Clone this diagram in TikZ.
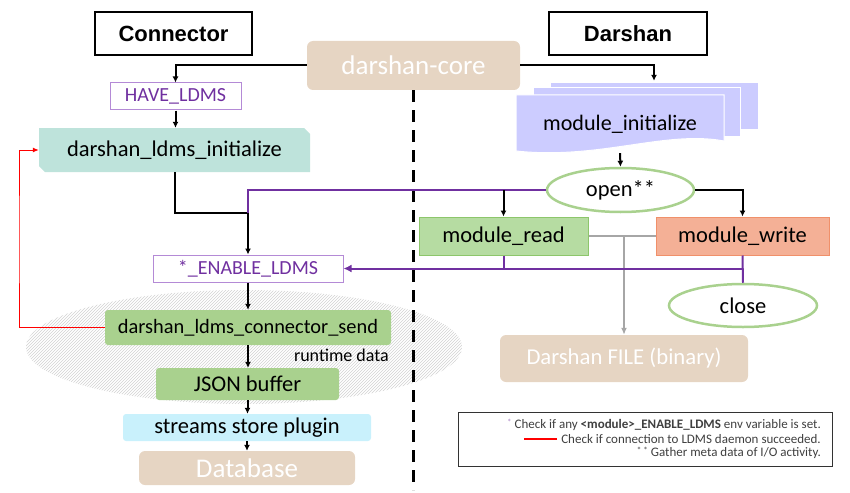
\documentclass[tikz,border=0pt]{standalone}
\usepackage{fontspec}
\setmainfont{Carlito}
\newfontfamily\arialfont{Liberation Sans}
\usetikzlibrary{arrows.meta,patterns,shapes.geometric}
\definecolor{tan}{HTML}{E6D5C3}
\definecolor{teal}{HTML}{BEE3DB}
\definecolor{lav}{HTML}{CCCCFF}
\definecolor{rdgreen}{HTML}{B6DCA2}
\definecolor{rdborder}{HTML}{8DC66B}
\definecolor{wrfill}{HTML}{F4B096}
\definecolor{wrborder}{HTML}{F0906A}
\definecolor{sgreen}{HTML}{A9D18E}
\definecolor{cyanbox}{HTML}{C9F1FC}
\definecolor{purp}{HTML}{7030A0}
\definecolor{lpurp}{HTML}{B48AD6}
\definecolor{lgray}{HTML}{A6A6A6}
\definecolor{legtext}{HTML}{3F3F3F}
\tikzset{
  fsz/.style={font=\fontsize{#1}{#1}\selectfont},
  hdr/.style={draw=black, line width=2, inner sep=0, font=\arialfont\bfseries\fontsize{22}{22}\selectfont},
  corebox/.style={fill=tan, rounded corners=6, inner sep=0, text=white},
  envbox/.style={draw=lpurp, line width=1, fill=white, inner sep=0, text=purp, fsz=20},
  plainbox/.style={inner sep=0, fsz=22.5},
  ellbox/.style={ellipse, draw=sgreen, line width=2.5, fill=white, inner sep=0, fsz=22.5},
  arr/.style={draw=black, line width=2, -{Latex[length=6,width=6]}},
  blk/.style={draw=black, line width=2},
  pline/.style={draw=purp, line width=2},
  parr/.style={draw=purp, line width=2, -{Latex[length=8,width=8]}},
  garr/.style={draw=lgray, line width=2, -{Latex[length=7,width=6]}},
  gline/.style={draw=lgray, line width=2},
  rarr/.style={draw=red, line width=1, -{Latex[length=6,width=5]}},
  legline/.style={anchor=east, inner sep=0, text=legtext, fsz=13},
}
\begin{document}
\begin{tikzpicture}[x=1pt,y=-1pt]
\useasboundingbox (0,0) rectangle (850,492);
% hatched ellipse
\fill[pattern=north east lines, pattern color=gray!35] (244,347) ellipse [x radius=218, y radius=57];
% headers
\node[hdr, minimum width=157, minimum height=43] (conn) at (173.5,33.5) {Connector};
\node[hdr, minimum width=158, minimum height=43] (dar) at (628,33.5) {Darshan};
% core
\node[corebox, minimum width=213, minimum height=49, fsz=27] (core) at (413.5,65.5) {darshan-core};
% divider
\draw[line width=3, dash pattern=on 12 off 8] (core.south) -- ++(0,400);
% left column
\node[envbox, minimum width=131, minimum height=27] (have) at (175.5,96.5) {HAVE\_LDMS};
\fill[teal] (39,128) -- (304,128) -- (310,134) -- (310,172) -- (45,172) -- (39,166) -- cycle;
\node[plainbox, minimum width=271, minimum height=44] (init) at (174.5,150) {darshan\_ldms\_initialize};
\node[envbox, minimum width=190, minimum height=27] (enable) at (248,268.5) {*\_ENABLE\_LDMS};
\node[fill=sgreen, rounded corners=3, inner sep=0, minimum width=286, minimum height=35, fsz=20.4] (send) at (248,327.5) {darshan\_ldms\_connector\_send};
\node[anchor=east, inner sep=0, fsz=18] (rt) at (389,355) {runtime data};
\node[fill=sgreen, rounded corners=3, inner sep=0, minimum width=183, minimum height=32, fsz=22.5] (json) at (247.5,384) {JSON buffer};
\node[fill=cyanbox, rounded corners=3, inner sep=0, minimum width=248, minimum height=27, fsz=22.5] (streams) at (247,427.5) {streams store plugin};
\node[corebox, minimum width=216, minimum height=34, fsz=27] (db) at (247,468) {Database};
% right column
\fill[lav, draw=white, line width=1] (550,83) rectangle (758,129);
\node[minimum width=208, minimum height=46, inner sep=0] (modback) at (654,106) {};
\fill[lav, draw=white, line width=1] (533,88) rectangle (740,136);
\path[fill=lav, draw=white, line width=1] (516,95) -- (724,95) -- (724,141) .. controls (665,130) and (600,160) .. (516,151) -- cycle;
\node[plainbox, minimum width=208, minimum height=58, fsz=22.1] (modinit) at (620,124) {module\_initialize};
\node[ellbox, minimum width=147, minimum height=44] (open) at (620.5,190) {open**};
\node[fill=rdgreen, draw=rdborder, line width=1, inner sep=0, minimum width=169, minimum height=38, fsz=22.5] (mread) at (503.5,236) {module\_read};
\node[fill=wrfill, draw=wrborder, line width=1, inner sep=0, minimum width=173, minimum height=38, fsz=22.5] (mwrite) at (742.5,236) {module\_write};
\node[ellbox, minimum width=148, minimum height=43] (close) at (743,305.5) {close};
\node[corebox, minimum width=248, minimum height=47, fsz=22.7] (file) at (624,358.5) {Darshan FILE (binary)};
% legend
\node[draw=black!80, line width=0.8, minimum width=374, minimum height=54, inner sep=0] (legend) at (645,439) {};
\node[legline] (l1) at (821,425) {\raisebox{3pt}{\textcolor{purp!60}{\fontsize{9}{9}\selectfont*}} Check if any \textbf{<module>\_ENABLE\_LDMS} env variable is set.};
\node[legline] (l2) at (821,439) {Check if connection to LDMS daemon succeeded.};
\draw[red, line width=1.8] ([xshift=-4]l2.west) -- ++(-33,0);
\node[legline] (l3) at (821,453) {\raisebox{3pt}{\fontsize{9}{9}\selectfont* *} Gather meta data of I/O activity.};
% connectors
\coordinate (j1) at (248,213);
\coordinate (rc) at (19,240);
\draw[arr] (core.west) -| (have.north);
\draw[arr] (have.south) -- (have.south |- init.north);
\draw[blk] (init.south) |- (j1);
\draw[pline] (open.west) -| (j1);
\draw[arr] (j1) -- (enable.north);
\draw[arr] (mread.north |- open.west) -- (mread.north);
\draw[arr] (open.east) -| (mwrite.north);
\draw[arr, shorten >=2] (core.east) -| (modback.north);
\draw[arr] (modinit.south) -- (open.north);
\draw[gline] (mread.east) -- (mwrite.west);
\draw[garr] (file.north |- mread.east) -- (file.north);
\draw[pline] (mread.south) -- (mread.south |- enable.east);
\draw[pline] (mwrite.south) -- (close.north);
\draw[parr] (mwrite.south |- enable.east) -- (enable.east);
\draw[arr] (enable.south) -- (send.north);
\draw[arr] (send.south) -- (send.south |- json.north);
\draw[arr] (json.south) -- (json.south |- streams.north);
\draw[arr] (streams.south) -- (streams.south |- db.north);
\draw[rarr] (send.west) -| (rc) |- (init.west);
\end{tikzpicture}
\end{document}
